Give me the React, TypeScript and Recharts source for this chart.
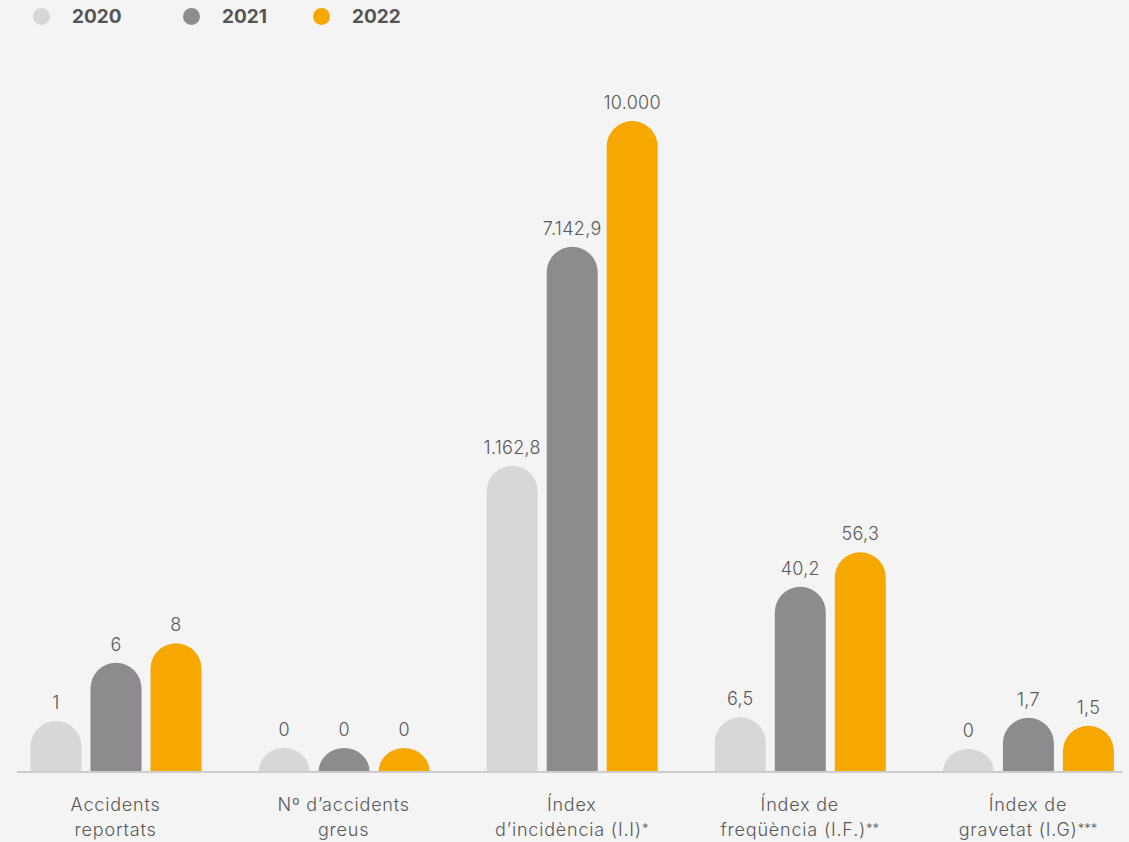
import { Bar, BarChart, LabelList, XAxis, YAxis } from "recharts";

// categories, two lines each
const categories = [
  ["Accidents", "reportats"],
  ["Nº d’accidents", "greus"],
  ["Índex", "d’incidència (I.I)*"],
  ["Índex de", "freqüència (I.F.)**"],
  ["Índex de", "gravetat (I.G)***"],
];

// printed values
const values2020 = ["1", "0", "1.162,8", "6,5", "0"];
const values2021 = ["6", "0", "7.142,9", "40,2", "1,7"];
const values2022 = ["8", "0", "10.000", "56,3", "1,5"];

// drawn bar heights (the source draws each group on its own scale)
const heights2020 = [50.5, 23.5, 305.8, 54.2, 22.5];
const heights2021 = [108.8, 23.5, 524.8, 184.8, 53.8];
const heights2022 = [128.2, 23.5, 650.5, 219.2, 45.8];

const years = ["2020", "2021", "2022"];
const colors = ["#d7d7d7", "#8d8b8e", "#f6a800"];

const data = categories.map((c, i) => ({
  name: c.join("\n"),
  h2020: heights2020[i],
  h2021: heights2021[i],
  h2022: heights2022[i],
  v2020: values2020[i],
  v2021: values2021[i],
  v2022: values2022[i],
}));

const FONT = "Inter, 'Noto Sans', sans-serif";
const TEXT = "#585858";

function DomeBar(props: any) {
  const { x, y, width, height, fill } = props;
  if (!height || height <= 0) return null;
  const r = width / 2;
  const bottom = y + height;
  let d: string;
  if (height >= r) {
    d = `M${x},${bottom} L${x},${y + r} A${r},${r} 0 0 1 ${x + width},${y + r} L${x + width},${bottom} Z`;
  } else {
    d = `M${x},${bottom} A${r},${height} 0 0 1 ${x + width},${bottom} Z`;
  }
  return <path d={d} fill={fill} />;
}

function CategoryTick(props: any) {
  const { x, y, payload } = props;
  const lines = String(payload.value).split("\n");
  return (
    <text
      x={x}
      y={y}
      textAnchor="middle"
      fill={TEXT}
      fontSize={18}
      fontWeight={300}
      letterSpacing={0.8}
      fontFamily={FONT}
    >
      {lines.map((l, i) => {
        const m = l.match(/^(.*?)(\*+)$/);
        return (
          <tspan key={i} x={x} dy={i === 0 ? 39 : 25}>
            {m ? m[1] : l}
            {m && (
              <tspan fontSize={13} letterSpacing={0} dy={-3}>
                {m[2]}
              </tspan>
            )}
          </tspan>
        );
      })}
    </text>
  );
}

export default function App() {
  return (
    <div
      style={{
        position: "fixed",
        left: 0,
        top: 0,
        width: 1129,
        height: 842,
        overflow: "hidden",
        background: "#f4f4f4",
        fontFamily: FONT,
      }}
    >
      {/* legend */}
      {years.map((yr, i) => (
        <div
          key={yr}
          style={{ position: "absolute", top: 0, left: [33, 183, 313][i], height: 32, display: "flex", alignItems: "center" }}
        >
          <span style={{ width: 17, height: 17, borderRadius: "50%", background: colors[i], display: "inline-block" }} />
          <span style={{ marginLeft: 22, fontSize: 19, fontWeight: 700, color: "#555" }}>{yr}</span>
        </div>
      ))}

      <BarChart
        width={1142}
        height={842}
        data={data}
        margin={{ top: 121, right: 0, bottom: 0.5, left: 1.5 }}
        barSize={51}
        barGap={9}
      >
        <XAxis
          dataKey="name"
          axisLine={false}
          tickLine={false}
          tickSize={0}
          tickMargin={0}
          height={70}
          interval={0}
          tick={<CategoryTick />}
        />
        <YAxis hide domain={[0, 650.5]} />
        {years.map((yr, i) => (
          <Bar key={yr} dataKey={`h${yr}`} fill={colors[i]} shape={<DomeBar />} isAnimationActive={false}>
            <LabelList
              dataKey={`v${yr}`}
              position="top"
              offset={12}
              fill={TEXT}
              fontSize={18}
              fontWeight={300}
              letterSpacing={0.3}
              fontFamily={FONT}
            />
          </Bar>
        ))}
      </BarChart>

      {/* baseline */}
      <div style={{ position: "absolute", left: 17, top: 771, width: 1106, height: 1.5, background: "#cdcdcd" }} />
    </div>
  );
}
